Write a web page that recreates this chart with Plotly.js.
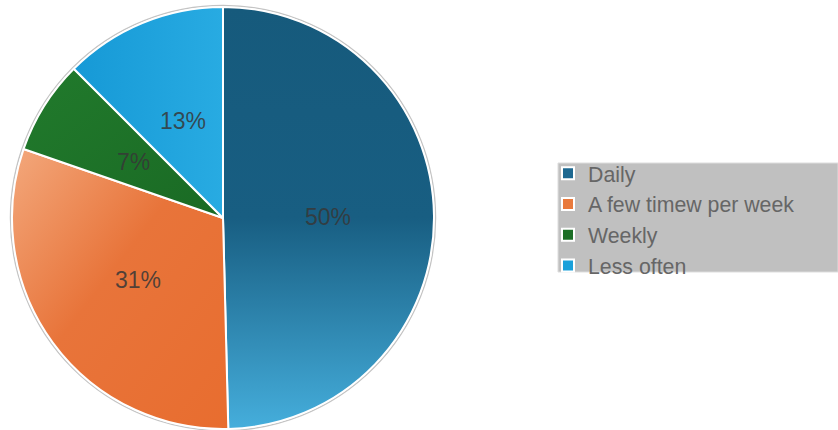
<!DOCTYPE html>
<html><head><meta charset="utf-8">
<script src="https://cdn.plot.ly/plotly-3.0.1.min.js"></script>
<style>html,body{margin:0;padding:0;background:#fff}</style>
</head><body>
<div id="chart" style="width:838px;height:430px"></div>
<script>
var categories = ["Daily", "A few timew per week", "Weekly", "Less often"];
var values = [49.6, 30.7, 7.2, 12.5];
var colors = ["#1d6890", "#e97a3d", "#1c6e26", "#1aa0da"];

// gradient styling per slice: [x1,y1,x2,y2, stops]
var gradients = [
  [0, 0, 0, 1, [[0, "#165a7c"], [0.5, "#185e82"], [1, "#45aedc"]]],
  [0, 0, 1, 1, [[0, "#f3a87c"], [0.45, "#e8743a"], [1, "#e86d2f"]]],
  [0, 0, 1, 1, [[0, "#217a2c"], [1, "#1a6a24"]]],
  [0, 0, 1, 0, [[0, "#1699d6"], [1, "#28abe2"]]]
];

var W = 838, H = 430;
var cx = 223, cy = 218, R = 211;

var trace = {
  type: "pie",
  labels: categories,
  values: values,
  sort: false,
  direction: "clockwise",
  rotation: 0,
  marker: {colors: colors, line: {color: "#ffffff", width: 2}},
  textinfo: "none",
  hoverinfo: "label+percent",
  domain: {x: [(cx - R) / W, (cx + R) / W], y: [1 - (cy + R) / H, 1 - (cy - R) / H]}
};

// percentage labels placed at half radius along each slice's mid-angle
var total = values.reduce(function (a, b) { return a + b; }, 0);
var annotations = [];
var cum = 0;
values.forEach(function (v) {
  var mid = (cum + v / 2) / total * 2 * Math.PI;
  cum += v;
  var px = cx + 0.5 * R * Math.sin(mid);
  var py = cy - 0.5 * R * Math.cos(mid);
  annotations.push({
    x: px / W, y: 1 - py / H, xref: "paper", yref: "paper",
    xanchor: "center", yanchor: "middle",
    text: Math.round(v / total * 100) + "%", showarrow: false,
    font: {family: "Liberation Sans, Arial, sans-serif", size: 23, color: "rgba(55,55,55,0.85)"}
  });
});

var layout = {
  width: W, height: H,
  margin: {l: 0, r: 0, t: 0, b: 0},
  paper_bgcolor: "#ffffff",
  showlegend: true,
  legend: {
    x: 548 / W, y: 1 - 153 / H, xanchor: "left", yanchor: "top",
    bgcolor: "rgba(0,0,0,0)",
    font: {family: "Liberation Sans, Arial, sans-serif", size: 21.3, color: "#666666"},
    tracegroupgap: 0, itemwidth: 30
  },
  annotations: annotations,
  shapes: [
    {type: "rect", xref: "paper", yref: "paper", x0: 558 / W, x1: 1, y0: 1 - 272 / H, y1: 1 - 163 / H,
     fillcolor: "#c0c0c0", line: {color: "#dddddd", width: 1}, layer: "below"},
    {type: "circle", xref: "paper", yref: "paper", x0: (cx - R - 1.5) / W, x1: (cx + R + 1.5) / W,
     y0: 1 - (cy + R + 1.5) / H, y1: 1 - (cy - R - 1.5) / H,
     fillcolor: "rgba(0,0,0,0)", line: {color: "#c4c4c4", width: 1.5}, layer: "below"}
  ]
};

Plotly.newPlot("chart", [trace], layout, {displayModeBar: false, staticPlot: true}).then(function () {
  var svgNS = "http://www.w3.org/2000/svg";
  var svg = document.querySelector("#chart .main-svg");
  var defs = document.createElementNS(svgNS, "defs");
  gradients.forEach(function (g, i) {
    var lg = document.createElementNS(svgNS, "linearGradient");
    lg.setAttribute("id", "sliceGrad" + i);
    lg.setAttribute("x1", g[0]); lg.setAttribute("y1", g[1]);
    lg.setAttribute("x2", g[2]); lg.setAttribute("y2", g[3]);
    g[4].forEach(function (s) {
      var st = document.createElementNS(svgNS, "stop");
      st.setAttribute("offset", s[0]);
      st.setAttribute("stop-color", s[1]);
      lg.appendChild(st);
    });
    defs.appendChild(lg);
  });
  svg.insertBefore(defs, svg.firstChild);
  document.querySelectorAll("#chart .slice path.surface").forEach(function (p, i) {
    if (i < gradients.length) p.style.fill = "url(#sliceGrad" + i + ")";
  });
});
</script>
</body></html>
